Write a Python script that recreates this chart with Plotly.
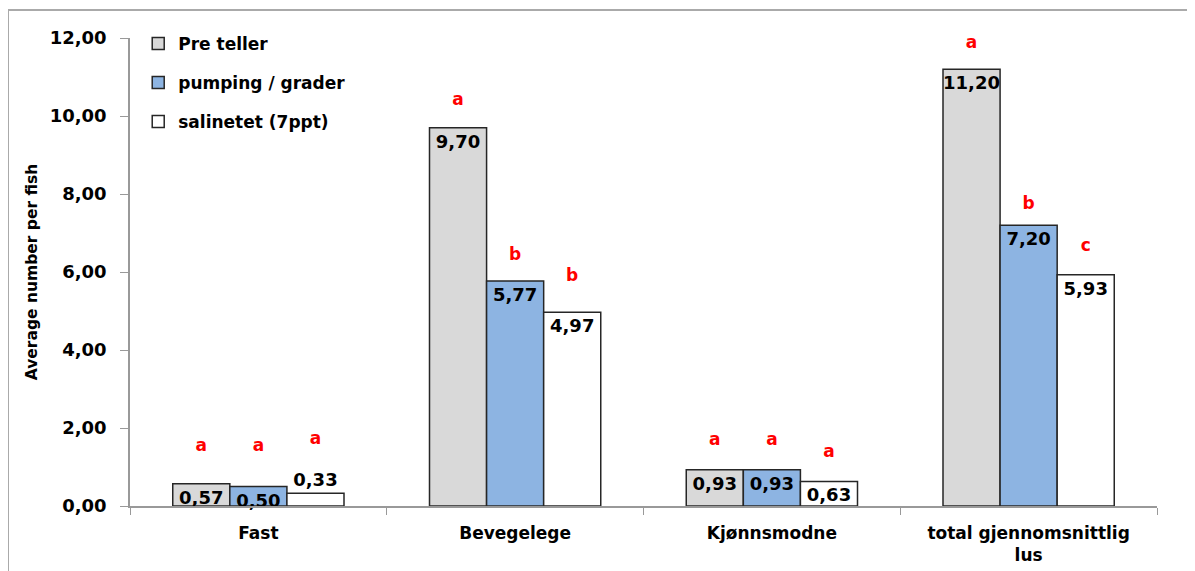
import plotly.graph_objects as go

categories = ["Fast", "Bevegelege", "Kjønnsmodne", "total gjennomsnittlig<br>lus"]
series_names = ["Pre teller", "pumping / grader", "salinetet (7ppt)"]
pre_teller = [0.57, 9.70, 0.93, 11.20]
pumping = [0.50, 5.77, 0.93, 7.20]
salinetet = [0.33, 4.97, 0.63, 5.93]
letters_pre = ["a", "a", "a", "a"]
letters_pump = ["a", "b", "a", "b"]
letters_sal = ["a", "b", "a", "c"]
letter_y_pre = [1.51, 10.38, 1.67, 11.85]
letter_y_pump = [1.51, 6.41, 1.67, 7.72]
letter_y_sal = [1.69, 5.87, 1.36, 6.64]
y_ticks = [0, 2, 4, 6, 8, 10, 12]

colors = ["#d9d9d9", "#8db4e2", "#ffffff"]
FONT = "DejaVu Sans"

fig = go.Figure()
values = [pre_teller, pumping, salinetet]
letters = [letters_pre, letters_pump, letters_sal]
letter_ys = [letter_y_pre, letter_y_pump, letter_y_sal]
textpos = [["inside"] * 4, ["inside"] * 4, ["outside", "inside", "inside", "inside"]]

for i in range(3):
    fig.add_trace(go.Bar(
        x=categories, y=values[i], name=series_names[i],
        marker=dict(color=colors[i], line=dict(color="#262626", width=1.5)),
        offsetgroup=str(i), legendgroup=str(i),
        texttemplate="%{y:.2f}", textposition=textpos[i], textangle=0,
        insidetextanchor="end", constraintext="none", cliponaxis=False,
        textfont=dict(family=FONT, size=18, color="black", weight="bold"),
    ))
for i in range(3):
    fig.add_trace(go.Scatter(
        x=categories, y=letter_ys[i], mode="text", text=letters[i],
        offsetgroup=str(i), showlegend=False, cliponaxis=False,
        textposition="middle center",
        textfont=dict(family=FONT, size=17, color="#ff0000", weight="bold"),
        hoverinfo="skip",
    ))

fig.update_layout(
    width=1195, height=571,
    margin=dict(l=122, r=46, t=30, b=73),
    paper_bgcolor="white", plot_bgcolor="white",
    barmode="group", bargap=0.333, bargroupgap=0,
    scattermode="group",
    separators=",.",
    showlegend=True,
    legend=dict(x=0.008, y=1.026, xanchor="left", yanchor="top",
                font=dict(family=FONT, size=17, color="black", weight="bold"),
                traceorder="grouped", tracegroupgap=14, bgcolor="rgba(0,0,0,0)"),
    xaxis=dict(showline=True, linecolor="#999999", linewidth=1.5,
               ticks="outside", tickson="boundaries", ticklen=7, tickcolor="#999999",
               ticklabelstandoff=11,
               tickfont=dict(family=FONT, size=17, color="black", weight="bold"),
               showgrid=False),
    yaxis=dict(range=[0, 12], tickvals=y_ticks, tickformat=".2f",
               showline=True, linecolor="#999999", linewidth=1.5,
               ticks="outside", ticklen=8, tickcolor="#999999",
               ticklabelstandoff=10,
               tickfont=dict(family=FONT, size=18, color="black", weight="bold"),
               showgrid=False, zeroline=False,
               title=dict(text="Average number per fish", standoff=8,
                          font=dict(family=FONT, size=15.5, color="black", weight="bold"))),
)

fig.add_shape(type="rect", xref="paper", yref="paper",
              x0=-0.1188, x1=1.2, y0=-0.3, y1=1.0598,
              line=dict(color="#aaaaaa", width=2), fillcolor="rgba(0,0,0,0)", layer="below")

fig.write_html("out.html")
